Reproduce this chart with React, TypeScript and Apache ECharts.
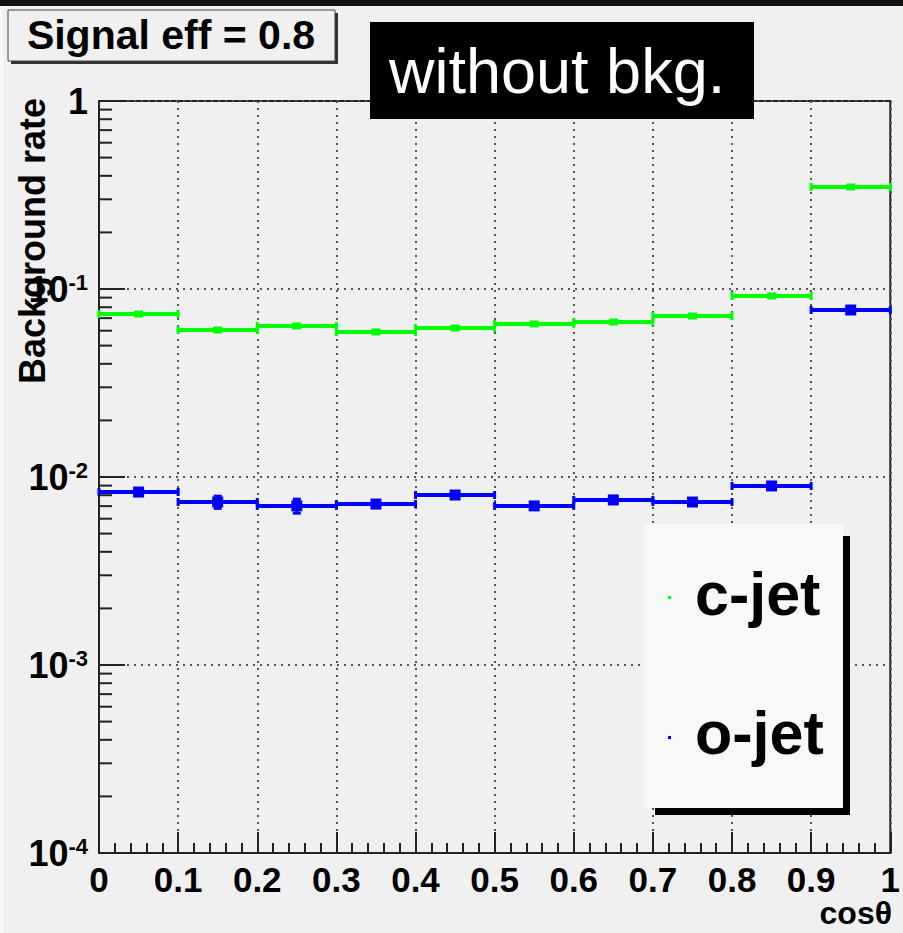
import React, { useEffect, useRef } from "react";
import * as echarts from "echarts";

// ---- data ----
const binLow = [0, 0.1, 0.2, 0.3, 0.4, 0.5, 0.6, 0.7, 0.8, 0.9];
const binHigh = [0.1, 0.2, 0.3, 0.4, 0.5, 0.6, 0.7, 0.8, 0.9, 1.0];
const cJet = [0.0736, 0.0605, 0.0636, 0.0591, 0.062, 0.0652, 0.0667, 0.0718, 0.0918, 0.349];
const cJetErr = [0.0012, 0.001, 0.001, 0.001, 0.001, 0.001, 0.001, 0.0012, 0.0015, 0.004];
const oJet = [0.00832, 0.00736, 0.00702, 0.00718, 0.00802, 0.00702, 0.00755, 0.00736, 0.00896, 0.0773];
const oJetErr = [0.00025, 0.00055, 0.0006, 0.0003, 0.0003, 0.0003, 0.0003, 0.0003, 0.0003, 0.0012];
const seriesNames = ["c-jet", "o-jet"];
const seriesColors = ["#00ff00", "#0000ff"];
const decades = [-4, -3, -2, -1];
const minorMultipliers = [2, 3, 4, 5, 6, 7, 8, 9];
const titleText = "Signal eff = 0.8";
const bannerText = "without bkg.";
const xTitle = "cosθ";
const yTitle = "Background rate";

const FONT = "'Liberation Sans', Arial, Helvetica, sans-serif";

function histRender(color: string, mw: number, mh: number) {
  return (params: any, api: any) => {
    const xlo = api.value(0);
    const xhi = api.value(1);
    const v = api.value(2);
    const e = api.value(3);
    const a = api.coord([xlo, v]);
    const b = api.coord([xhi, v]);
    const xm = (a[0] + b[0]) / 2;
    const top = api.coord([xlo, v + e])[1];
    const bot = api.coord([xlo, v - e])[1];
    const cap = 4;
    const st = { stroke: color, lineWidth: 4 };
    const st3 = { stroke: color, lineWidth: 3 };
    return {
      type: "group",
      children: [
        { type: "line", shape: { x1: a[0], y1: a[1], x2: b[0], y2: b[1] }, style: st },
        { type: "line", shape: { x1: a[0], y1: a[1] - cap, x2: a[0], y2: a[1] + cap }, style: st3 },
        { type: "line", shape: { x1: b[0], y1: b[1] - cap, x2: b[0], y2: b[1] + cap }, style: st3 },
        { type: "line", shape: { x1: xm, y1: top, x2: xm, y2: bot }, style: st3 },
        { type: "line", shape: { x1: xm - 4, y1: top, x2: xm + 4, y2: top }, style: st3 },
        { type: "line", shape: { x1: xm - 4, y1: bot, x2: xm + 4, y2: bot }, style: st3 },
        {
          type: "rect",
          shape: { x: xm - mw / 2, y: a[1] - mh / 2, width: mw, height: mh },
          style: { fill: color },
        },
      ],
    };
  };
}

export default function App() {
  const ref = useRef<HTMLDivElement>(null);
  useEffect(() => {
    if (!ref.current) return;
    const chart = echarts.init(ref.current, null, { renderer: "svg" });

    const cData = binLow.map((lo, i) => [lo, binHigh[i], cJet[i], cJetErr[i]]);
    const oData = binLow.map((lo, i) => [lo, binHigh[i], oJet[i], oJetErr[i]]);
    const minorData: number[][] = [];
    decades.forEach((d) =>
      minorMultipliers.forEach((m) => minorData.push([0, m * Math.pow(10, d)]))
    );

    chart.setOption({
      animation: false,
      backgroundColor: "#f0f0f0",
      grid: {
        left: 99,
        right: 11,
        top: 101,
        bottom: 80,
        show: true,
        borderColor: "#222",
        borderWidth: 2,
        backgroundColor: "transparent",
      },
      xAxis: {
        type: "value",
        min: 0,
        max: 1,
        interval: 0.1,
        axisLine: { show: true, lineStyle: { color: "#222", width: 2 } },
        axisTick: { show: true, inside: true, length: 21, lineStyle: { color: "#222", width: 2 } },
        minorTick: { show: true, splitNumber: 5, length: 10, lineStyle: { color: "#222", width: 2 } },
        axisLabel: {
          fontSize: 35,
          fontWeight: "bold",
          color: "#000",
          fontFamily: FONT,
          margin: 9,
          formatter: (v: number) => (v === 0 ? "0" : v === 1 ? "1" : v.toFixed(1)),
        },
        splitLine: { show: true, lineStyle: { color: "#555", width: 2, type: [2, 5] } },
      },
      yAxis: {
        type: "log",
        logBase: 10,
        min: 0.0001,
        max: 1,
        axisLine: { show: true, lineStyle: { color: "#222", width: 2 } },
        axisTick: { show: true, inside: true, length: 26, lineStyle: { color: "#222", width: 2 } },
        axisLabel: {
          margin: 11,
          fontFamily: FONT,
          formatter: (v: number) => {
            const e = Math.round(Math.log10(v));
            if (e === 0) return "{n|1}";
            return "{n|10}{s|" + e + "}";
          },
          rich: {
            n: { fontSize: 36, fontWeight: "bold", color: "#000", fontFamily: FONT, lineHeight: 36 },
            s: {
              fontSize: 22,
              fontWeight: "bold",
              color: "#000",
              fontFamily: FONT,
              lineHeight: 22,
              verticalAlign: "top",
            },
          },
        },
        splitLine: { show: true, lineStyle: { color: "#555", width: 2, type: [2, 5] } },
      },
      series: [
        {
          type: "custom",
          name: "minor",
          silent: true,
          renderItem: (params: any, api: any) => {
            const p = api.coord([0, api.value(1)]);
            return {
              type: "line",
              shape: { x1: p[0], y1: p[1], x2: p[0] + 13, y2: p[1] },
              style: { stroke: "#222", lineWidth: 2 },
            };
          },
          encode: { x: 0, y: 1 },
          data: minorData,
          z: 3,
        },
        {
          type: "custom",
          name: seriesNames[0],
          renderItem: histRender(seriesColors[0], 9, 7),
          encode: { x: [0, 1], y: 2 },
          data: cData,
          clip: false,
          z: 5,
        },
        {
          type: "custom",
          name: seriesNames[1],
          renderItem: histRender(seriesColors[1], 11, 11),
          encode: { x: [0, 1], y: 2 },
          data: oData,
          clip: false,
          z: 5,
        },
      ],
      graphic: [
        { type: "rect", z: 100, shape: { x: 0, y: 0, width: 903, height: 6 }, style: { fill: "#111" } },
        { type: "rect", z: 100, shape: { x: 0, y: 6, width: 3, height: 927 }, style: { fill: "#f6faf6" } },
        // title box
        { type: "rect", z: 100, shape: { x: 11, y: 13, width: 327, height: 51 }, style: { fill: "#333" } },
        {
          type: "rect",
          z: 101,
          shape: { x: 8, y: 10, width: 327, height: 51 },
          style: { fill: "#f0f0f0", stroke: "#444", lineWidth: 1 },
        },
        {
          type: "text",
          z: 102,
          x: 171,
          y: 35,
          style: {
            text: titleText,
            font: "bold 41px " + FONT,
            fill: "#000",
            align: "center",
            verticalAlign: "middle",
          },
        },
        // banner
        { type: "rect", z: 100, shape: { x: 370, y: 22, width: 384, height: 97 }, style: { fill: "#000" } },
        {
          type: "text",
          z: 101,
          x: 389,
          y: 71,
          style: {
            text: bannerText,
            font: "63px " + FONT,
            fill: "#fff",
            align: "left",
            verticalAlign: "middle",
          },
        },
        // y title
        {
          type: "text",
          z: 100,
          x: 32,
          y: 241,
          rotation: Math.PI / 2,
          style: {
            text: yTitle,
            font: "bold 36px " + FONT,
            fill: "#000",
            align: "center",
            verticalAlign: "middle",
          },
        },
        // x title
        {
          type: "text",
          z: 100,
          x: 892,
          y: 913,
          style: {
            text: xTitle,
            font: "bold 32px " + FONT,
            fill: "#000",
            align: "right",
            verticalAlign: "middle",
          },
        },
        // legend
        { type: "rect", z: 110, shape: { x: 655, y: 536, width: 195, height: 279 }, style: { fill: "#000" } },
        {
          type: "rect",
          z: 111,
          shape: { x: 644, y: 524, width: 199, height: 284 },
          style: { fill: "#f6f9f6" },
        },
        { type: "rect", z: 112, shape: { x: 668, y: 596, width: 3, height: 3 }, style: { fill: seriesColors[0] } },
        { type: "rect", z: 112, shape: { x: 668, y: 736, width: 3, height: 3 }, style: { fill: seriesColors[1] } },
        {
          type: "text",
          z: 112,
          x: 695,
          y: 594,
          style: {
            text: seriesNames[0],
            font: "bold 61px " + FONT,
            fill: "#000",
            align: "left",
            verticalAlign: "middle",
          },
        },
        {
          type: "text",
          z: 112,
          x: 695,
          y: 733,
          style: {
            text: seriesNames[1],
            font: "bold 61px " + FONT,
            fill: "#000",
            align: "left",
            verticalAlign: "middle",
          },
        },
      ],
    });
    return () => chart.dispose();
  }, []);
  return (
    <div
      ref={ref}
      style={{ position: "absolute", left: 0, top: 0, width: 903, height: 933 }}
    />
  );
}
